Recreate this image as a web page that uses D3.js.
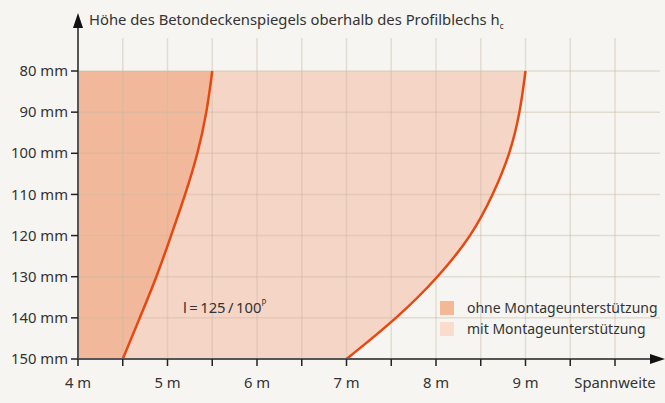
<!DOCTYPE html>
<html>
<head>
<meta charset="utf-8">
<script src="https://cdn.jsdelivr.net/npm/d3@7"></script>
<style>
  body { margin: 0; background: #f6f5f1; }
  svg { display: block; font-family: "Noto Sans", sans-serif; }
</style>
</head>
<body>
<svg id="chart"></svg>
<script>
// values
var heights = [150, 140, 130, 120, 110, 100, 90, 80];           // mm
var spanOhne = [4.5, 4.69, 4.88, 5.04, 5.20, 5.34, 5.44, 5.5];  // m
var spanMit = [7.0, 7.57, 8.03, 8.40, 8.64, 8.83, 8.94, 9.0];   // m
var xTicks = [4, 5, 6, 7, 8, 9];
var xGrid = [4, 4.5, 5, 5.5, 6, 6.5, 7, 7.5, 8, 8.5, 9, 9.5, 10];
var yTicks = [80, 90, 100, 110, 120, 130, 140, 150];
var legendLabels = ["ohne Montageunterstützung", "mit Montageunterstützung"];

var width = 665, height = 403;
var margin = {top: 71, right: 50, bottom: 44, left: 78};
var fs = 14.8;

var svg = d3.select("#chart").attr("width", width).attr("height", height);

var x = d3.scaleLinear().domain([4, 10]).range([margin.left, width - margin.right]);
var y = d3.scaleLinear().domain([80, 150]).range([margin.top, height - margin.bottom]);

var colOhne = "#f2b89c", colMit = "#f5d5c5", colLine = "#e8470f";

// fills
var area = function(vals) {
  return d3.area()
    .curve(d3.curveBasis)
    .y(function(d, i) { return y(heights[i]); })
    .x0(x(4))
    .x1(function(d) { return x(d); })(vals);
};
svg.append("path").attr("d", area(spanMit)).attr("fill", colMit);
svg.append("path").attr("d", area(spanOhne)).attr("fill", colOhne);

// grid
var grid = svg.append("g").attr("stroke", "#c9b79f").attr("stroke-opacity", 0.4).attr("stroke-width", 1.5);
grid.selectAll(".vg").data(xGrid.slice(1)).enter().append("line")
  .attr("x1", function(d) { return x(d); }).attr("x2", function(d) { return x(d); })
  .attr("y1", 38).attr("y2", y(150));
grid.selectAll(".hg").data(yTicks.slice(0, -1)).enter().append("line")
  .attr("x1", x(4)).attr("x2", 660)
  .attr("y1", function(d) { return y(d); }).attr("y2", function(d) { return y(d); });

// curves
var line = d3.line()
  .curve(d3.curveBasis)
  .x(function(d) { return x(d); })
  .y(function(d, i) { return y(heights[i]); });
[spanOhne, spanMit].forEach(function(s) {
  svg.append("path").attr("d", line(s)).attr("fill", "none")
    .attr("stroke", colLine).attr("stroke-width", 2.5);
});

// axes
var axisCol = "#555";
svg.append("line").attr("x1", x(4)).attr("x2", x(4)).attr("y1", 24).attr("y2", y(150))
  .attr("stroke", axisCol).attr("stroke-width", 2);
svg.append("path").attr("d", "M" + (x(4) - 5) + ",28L" + x(4) + ",13L" + (x(4) + 5) + ",28Z").attr("fill", "#111");
svg.append("line").attr("x1", x(4)).attr("x2", 656).attr("y1", y(150)).attr("y2", y(150))
  .attr("stroke", axisCol).attr("stroke-width", 2);
svg.append("path").attr("d", "M650," + (y(150) - 5) + "L665," + y(150) + "L650," + (y(150) + 5) + "Z").attr("fill", "#111");

// y ticks
var yg = svg.append("g");
yg.selectAll("line").data(yTicks).enter().append("line")
  .attr("x1", x(4) - 7).attr("x2", x(4))
  .attr("y1", function(d) { return y(d); }).attr("y2", function(d) { return y(d); })
  .attr("stroke", "#222").attr("stroke-width", 1.5);
yg.selectAll("text").data(yTicks).enter().append("text")
  .attr("x", 68).attr("y", function(d) { return y(d); }).attr("dy", "0.35em")
  .attr("text-anchor", "end").attr("font-size", fs).attr("fill", "#333")
  .text(function(d) { return d + " mm"; });

// x ticks
var xg = svg.append("g");
xg.selectAll("line").data(xGrid).enter().append("line")
  .attr("x1", function(d) { return x(d); }).attr("x2", function(d) { return x(d); })
  .attr("y1", y(150)).attr("y2", y(150) + 7)
  .attr("stroke", "#222").attr("stroke-width", 1.5);
xg.selectAll("text").data(xTicks).enter().append("text")
  .attr("x", function(d) { return x(d); }).attr("y", 388)
  .attr("text-anchor", "middle").attr("font-size", fs).attr("fill", "#333")
  .text(function(d) { return d + " m"; });
svg.append("text").attr("x", x(10)).attr("y", 388).attr("text-anchor", "middle")
  .attr("font-size", fs).attr("fill", "#333").text("Spannweite");

// title
var t = svg.append("text").attr("x", 89).attr("y", 25).attr("font-size", fs).attr("fill", "#333")
  .text("Höhe des Betondeckenspiegels oberhalb des Profilblechs h");
t.append("tspan").attr("font-size", 8).attr("dy", 4).text("c");

// annotation
var a = svg.append("text").attr("x", 183).attr("y", 313).attr("font-size", fs).attr("fill", "#333")
  .text("l\u2009=\u2009125\u2009/\u2009100");
a.append("tspan").attr("font-size", 8).attr("dy", -7).text("P");

// legend
var lg = svg.append("g");
lg.selectAll("rect").data(legendLabels).enter().append("rect")
  .attr("x", 440).attr("y", function(d, i) { return 301 + i * 21; })
  .attr("width", 14).attr("height", 14)
  .attr("fill", function(d, i) { return i ? "#f9dccc" : "#f4b897"; });
lg.selectAll("text").data(legendLabels).enter().append("text")
  .attr("x", 467).attr("y", function(d, i) { return 313 + i * 21; })
  .attr("font-size", 14).attr("fill", "#333").text(function(d) { return d; });
</script>
</body>
</html>
